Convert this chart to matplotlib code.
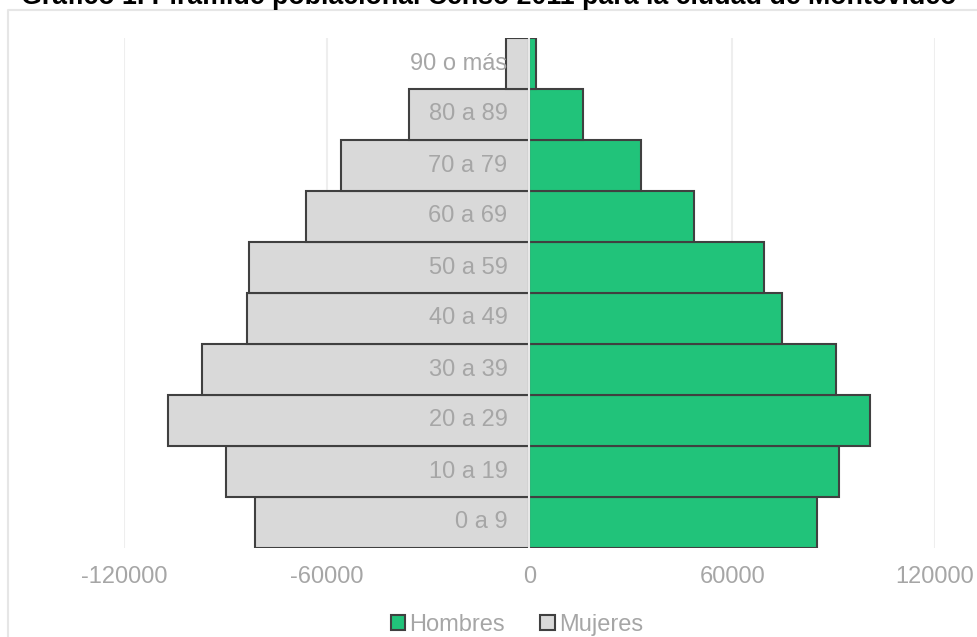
import matplotlib
matplotlib.use("Agg")
import matplotlib.pyplot as plt
from matplotlib.patches import Patch
from matplotlib.lines import Line2D

plt.rcParams['font.family'] = ['Liberation Sans', 'DejaVu Sans']

# datos (aprox.)
grupos = ["0 a 9", "10 a 19", "20 a 29", "30 a 39", "40 a 49",
          "50 a 59", "60 a 69", "70 a 79", "80 a 89", "90 o más"]
hombres = [85100, 91600, 100800, 90800, 74800, 69500, 48800, 33100, 15700, 1800]
mujeres = [81300, 89900, 107000, 97000, 83700, 83100, 66200, 55900, 35800, 7100]
ticks = [-120000, -60000, 0, 60000, 120000]

verde = "#21c37a"
gris = "#d9d9d9"
borde = "#404040"
txt_gris = "#a6a6a6"

fig = plt.figure(figsize=(9.78, 6.37), dpi=100)
ax = fig.add_axes([124/978, 1 - 548/637, (935 - 124)/978, (548 - 38)/637])

y = list(range(len(grupos)))
ax.barh(y, hombres, height=1.0, color=verde, edgecolor=borde, linewidth=1.5, zorder=2)
ax.barh(y, [-m for m in mujeres], height=1.0, color=gris, edgecolor=borde, linewidth=1.5, zorder=2)
ax.axvline(0, color="#e8e8e8", linewidth=1.5, zorder=3)

for i, g in enumerate(grupos):
    ax.text(-6500, i, g, ha="right", va="center", fontsize=17, color=txt_gris, zorder=4)

ax.set_xlim(-120000, 120000)
ax.set_ylim(-0.5, len(grupos) - 0.5)
ax.set_xticks(ticks)
ax.set_xticklabels([str(t) for t in ticks])
ax.set_yticks([])
ax.tick_params(axis="x", length=0, pad=13, labelsize=17, labelcolor=txt_gris)
ax.grid(axis="x", color="#eeeeee", linewidth=1.5, zorder=0)
ax.set_axisbelow(True)
for s in ax.spines.values():
    s.set_visible(False)

# marco del area del grafico
fig.add_artist(Line2D([8/978, 8/978, 1], [0, 1 - 10/637, 1 - 10/637],
                      transform=fig.transFigure, color="#e6e6e6", linewidth=1.5))

# titulo (en el original queda cortado arriba)
fig.text(489/978, 1 - 4/637, "Gráfico 1. Pirámide poblacional Censo 2011 para la ciudad de Montevideo",
         ha="center", va="baseline", fontsize=19.3, fontweight="bold", color="black")

handles = [Patch(facecolor=verde, edgecolor=borde, linewidth=1.5, label="Hombres"),
           Patch(facecolor=gris, edgecolor=borde, linewidth=1.5, label="Mujeres")]
leg = fig.legend(handles=handles, loc="center", bbox_to_anchor=(517/978, 1 - 625/637),
                 ncol=2, frameon=False, fontsize=17, handlelength=0.6, handleheight=0.6,
                 handletextpad=0.2, columnspacing=1.5, borderpad=0)
for t in leg.get_texts():
    t.set_color(txt_gris)

fig.savefig("out.png", dpi=100)
